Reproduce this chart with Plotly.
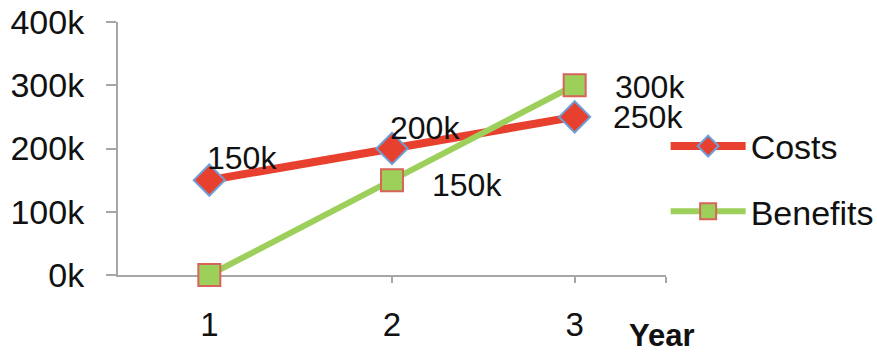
import plotly.graph_objects as go

years = [1, 2, 3]
year_labels = ["1", "2", "3"]
costs = [150000, 200000, 250000]
benefits = [0, 150000, 300000]
cost_labels = ["150k", "200k", "250k"]
benefit_labels = ["", "150k", "300k"]
y_ticks = [0, 100000, 200000, 300000, 400000]
y_tick_labels = ["0k", "100k", "200k", "300k", "400k"]

# label placement offsets (style only)
cost_label_shift = [(-4, 22), (-4, 21), (36, 0)]
benefit_label_shift = [(0, 0), (38, -5), (38, -2)]

FONT = "Liberation Sans, Arial, sans-serif"
RED = "#E8402F"
GREEN = "#9DCF5B"
BLUE_EDGE = "#6E9FD9"
RED_EDGE = "#D8645A"

fig = go.Figure()
fig.add_trace(go.Scatter(
    x=years, y=costs, name="Costs", mode="lines+markers",
    line=dict(color=RED, width=8),
    marker=dict(symbol="diamond", size=24, color=RED, line=dict(color=BLUE_EDGE, width=2)),
    cliponaxis=False, legendgroup="c"))
fig.add_trace(go.Scatter(
    x=years, y=benefits, name="Benefits", mode="lines+markers",
    line=dict(color=GREEN, width=6),
    marker=dict(symbol="square", size=22, color=GREEN, line=dict(color=RED_EDGE, width=2)),
    cliponaxis=False, legendgroup="b"))

annotations = []
for xv, yv, t, (dx, dy) in zip(years, costs, cost_labels, cost_label_shift):
    if t:
        annotations.append(dict(x=xv, y=yv, text=t, showarrow=False, xanchor="left",
                                yanchor="middle", xshift=dx, yshift=dy,
                                font=dict(size=32, color="#111", family=FONT)))
for xv, yv, t, (dx, dy) in zip(years, benefits, benefit_labels, benefit_label_shift):
    if t:
        annotations.append(dict(x=xv, y=yv, text=t, showarrow=False, xanchor="left",
                                yanchor="middle", xshift=dx, yshift=dy,
                                font=dict(size=32, color="#111", family=FONT)))
annotations.append(dict(x=1.0, y=0, xref="paper", yref="paper", text="<b>Year</b>",
                        showarrow=False, xanchor="center", yanchor="top",
                        xshift=-4, yshift=-41,
                        font=dict(size=31, color="#111", family=FONT)))

fig.update_layout(
    width=877, height=353,
    margin=dict(l=118, r=211, t=22, b=78, autoexpand=False),
    paper_bgcolor="white", plot_bgcolor="white",
    font=dict(family=FONT, color="#111"),
    showlegend=True,
    legend=dict(x=0.759, y=0.493, xref="container", yref="container",
                xanchor="left", yanchor="middle",
                font=dict(size=34, family=FONT, color="#111"),
                itemwidth=75, tracegroupgap=18, bgcolor="rgba(0,0,0,0)"),
    annotations=annotations,
)
fig.update_xaxes(range=[0.5, 3.5], tickmode="array", tickvals=years + [3.5],
                 ticktext=year_labels + [""], showgrid=False, zeroline=False,
                 showline=True, linecolor="#A6A6A6", linewidth=2, layer="below traces",
                 ticks="outside", ticklen=6, tickcolor="#A6A6A6", tickwidth=2,
                 automargin=False,
                 tickfont=dict(size=33, color="#111", family=FONT), ticklabelstandoff=13)
fig.update_yaxes(range=[0, 400000], tickmode="array", tickvals=y_ticks,
                 ticktext=y_tick_labels, showgrid=False, zeroline=False,
                 showline=True, linecolor="#A6A6A6", linewidth=2, layer="below traces",
                 ticks="outside", ticklen=10, tickcolor="#A6A6A6", tickwidth=2,
                 automargin=False,
                 tickfont=dict(size=34, color="#111", family=FONT), ticklabelstandoff=15)

fig.write_html("out.html")
